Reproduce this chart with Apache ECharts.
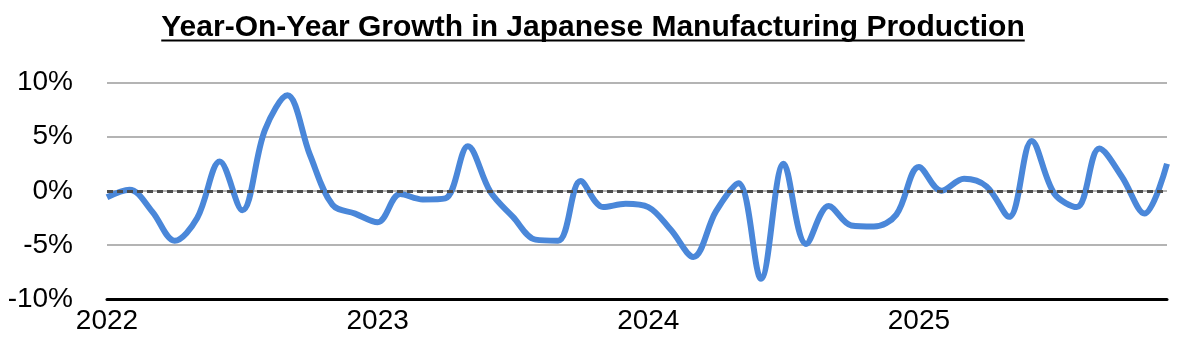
<!DOCTYPE html>
<html>
<head>
<meta charset="utf-8">
<script src="https://cdn.jsdelivr.net/npm/echarts@6/dist/echarts.min.js"></script>
<style>
html,body{margin:0;padding:0;background:#fff;}
#chart{width:1186px;height:355px;}
</style>
</head>
<body>
<div id="chart"></div>
<script>
// Monthly data, Jan 2022 .. Dec 2025
const years = ['2022', '2023', '2024', '2025'];
const months = [];
years.forEach(y => { for (let m = 1; m <= 12; m++) months.push(y + '-' + (m < 10 ? '0' + m : m)); });

const growth = [
  -0.6, 0.1, -1.9, -4.6, -2.5, 2.7, -1.8, 5.6, 8.8, 3.3, -1.3, -2.1,
  -2.9, -0.3, -0.8, -0.7, 4.1, -0.1, -2.4, -4.5, -4.6, 0.9, -1.5, -1.2,
  -1.5, -3.6, -6.1, -1.9, 0.7, -8.1, 2.5, -4.9, -1.4, -3.2, -3.3, -2.2,
  2.2, 0.0, 1.1, 0.4, -2.4, 4.6, -0.25, -1.5, 3.9, 1.3, -2.1, 2.5
];

const yTicks = [-10, -5, 0, 5, 10];
const titleText = 'Year-On-Year Growth in Japanese Manufacturing Production';

const chart = echarts.init(document.getElementById('chart'));
const FONT = 'Liberation Sans, Arial, sans-serif';

// measure title width for the underline
const TFS = 30;
const cv = document.createElement('canvas').getContext('2d');
cv.font = 'bold ' + TFS + 'px ' + FONT;
const tw = cv.measureText(titleText).width;
const cx = 593;

chart.setOption({
  animation: false,
  backgroundColor: '#fff',
  title: {
    text: titleText,
    left: 'center',
    top: 8,
    textStyle: { fontFamily: FONT, fontSize: TFS, fontWeight: 'bold', color: '#000' }
  },
  graphic: [{
    type: 'line',
    shape: { x1: cx - tw / 2, y1: 40.5, x2: cx + tw / 2, y2: 40.5 },
    style: { stroke: '#000', lineWidth: 2 }
  }],
  grid: { left: 107, right: 19, top: 82.3, bottom: 55.7, containLabel: false },
  xAxis: {
    type: 'category',
    data: months,
    boundaryGap: false,
    axisLine: { show: true, onZero: false, lineStyle: { color: '#000', width: 3 } },
    axisTick: { show: false },
    splitLine: { show: false },
    axisLabel: {
      interval: 0,
      margin: 8,
      fontFamily: FONT, fontSize: 28, color: '#000',
      formatter: v => v.endsWith('-01') ? v.slice(0, 4) : ''
    }
  },
  yAxis: {
    type: 'value',
    min: yTicks[0], max: yTicks[yTicks.length - 1], interval: 5,
    axisLine: { show: false },
    axisTick: { show: false },
    splitLine: { show: true, lineStyle: { color: '#b4b4b4', width: 2 } },
    axisLabel: {
      margin: 34,
      fontFamily: FONT, fontSize: 28, color: '#000',
      formatter: v => v + '%'
    }
  },
  series: [{
    type: 'line',
    data: growth,
    smooth: 0.35,
    showSymbol: false,
    lineStyle: { color: '#4a87d9', width: 6 },
    markLine: {
      silent: true,
      symbol: 'none',
      label: { show: false },
      lineStyle: { color: '#4d4d4d', type: [6, 4], width: 3 },
      data: [{ yAxis: 0 }]
    },
    z: 3
  }]
});
</script>
</body>
</html>
